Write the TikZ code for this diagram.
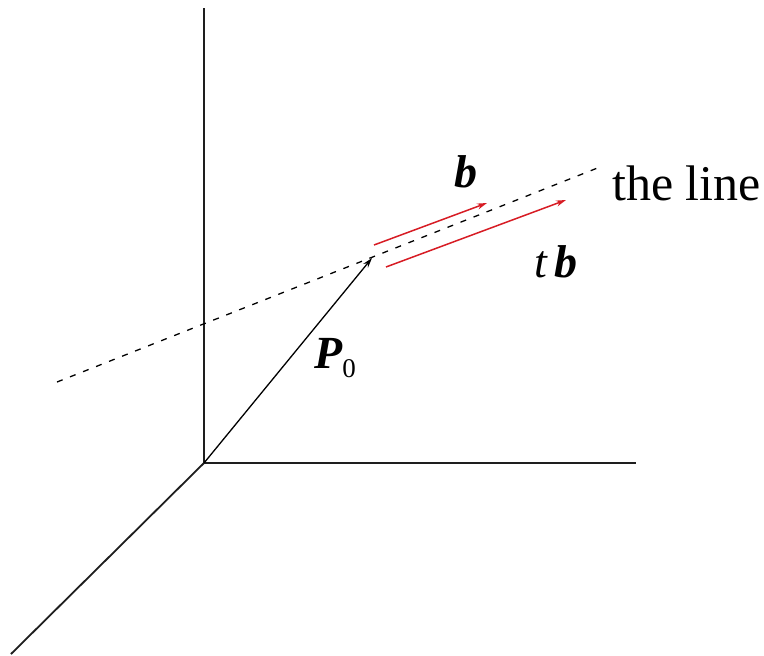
\documentclass[tikz,border=0pt]{standalone}
\usepackage{fontspec}
\setmainfont{Liberation Serif}
\usetikzlibrary{arrows.meta}
\definecolor{lineRed}{RGB}{215,28,36}
\definecolor{axisInk}{RGB}{30,30,30}
\newcommand{\bvec}[1]{{\bfseries\itshape #1}}

\begin{document}
\begin{tikzpicture}[x=1pt, y=-1pt,
    axis/.style={line width=1.8pt, color=axisInk},
    dashline/.style={line width=1.3pt, dash pattern=on 6pt off 8pt},
    vec/.style={-{Stealth[length=10pt,width=6pt]}, line width=1.3pt},
    redvec/.style={vec, line width=1.5pt, color=lineRed},
    lbl/.style={inner sep=0pt, font=\fontsize{46}{50}\selectfont}
  ]
    \useasboundingbox (0,0) rectangle (764,656);
    % axes
    \coordinate (O) at (204,463);
    \coordinate (Ytop) at (204,8);
    \coordinate (Xend) at (636,463);
    \coordinate (Zend) at (11,654);
    \draw[axis] (Ytop) -- (O) -- (Xend);
    \draw[axis] (O) -- (Zend);

    % the line and its vectors
    \coordinate (L1) at (57,382);
    \coordinate (L2) at (600,167);
    \coordinate (P) at (372,258);
    \draw[dashline] (L1) -- (L2);
    \draw[vec] (O) -- (P);

    \coordinate (bA) at (374,245);
    \coordinate (bB) at (487,203);
    \coordinate (tbA) at (386,267);
    \coordinate (tbB) at (566,200);
    \draw[redvec] (bA) -- (bB);
    \draw[redvec] (tbA) -- (tbB);

    % labels
    \node[lbl, anchor=base west] (blbl) at (454,187) {\bvec{b}};
    \node[lbl, anchor=base west] (tblbl) at (534,277) {\itshape t\,\bvec{b}};
    \node[lbl, anchor=base west] (plbl) at (314,368)
      {\bvec{P}\raisebox{-9pt}{\fontsize{27}{29}\selectfont 0}};
    \node[lbl, anchor=base west, font=\fontsize{50}{54}\selectfont] (linelbl) at (612,200) {the line};
  \end{tikzpicture}
\end{document}
